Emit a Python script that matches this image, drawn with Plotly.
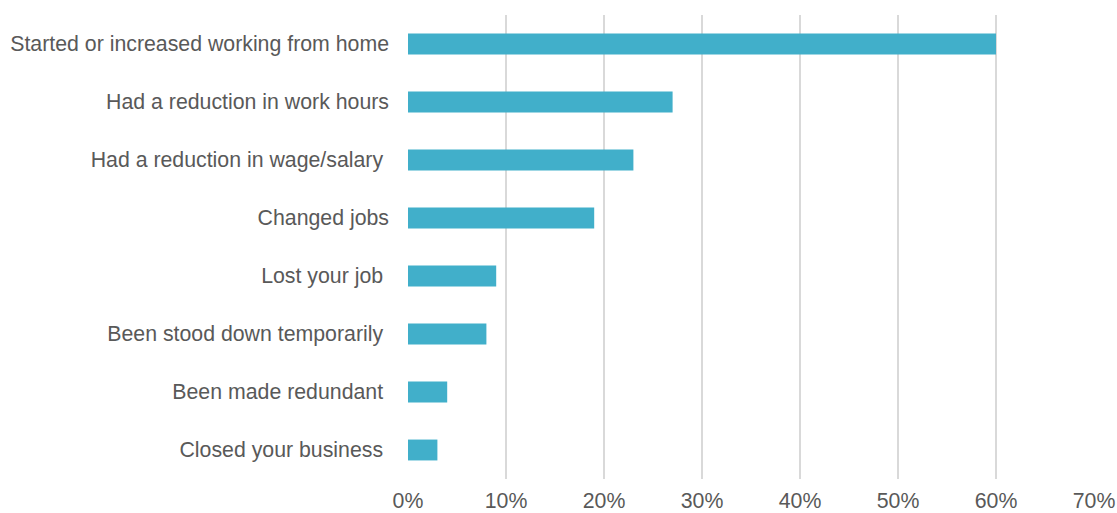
import plotly.graph_objects as go

# Survey responses: employment changes, share of respondents
categories = [
    "Started or increased working from home",
    "Had a reduction in work hours",
    "Had a reduction in wage/salary ",
    "Changed jobs",
    "Lost your job ",
    "Been stood down temporarily ",
    "Been made redundant ",
    "Closed your business ",
]
shares = [60, 27, 23, 19, 9, 8, 4, 3]
tick_values = [0, 10, 20, 30, 40, 50, 60, 70]
tick_labels = ["0%", "10%", "20%", "30%", "40%", "50%", "60%", "70%"]

fig = go.Figure(
    go.Bar(
        x=shares,
        y=categories,
        orientation="h",
        marker=dict(color="#41AFCA", line=dict(width=0)),
        width=0.36,
        hoverinfo="x+y",
    )
)

fig.update_layout(
    width=1117,
    height=513,
    margin=dict(l=408, r=23, t=15, b=34),
    paper_bgcolor="white",
    plot_bgcolor="white",
    font=dict(family="Liberation Sans, Arial, sans-serif", size=21.3, color="#595959"),
    showlegend=False,
)
fig.update_xaxes(
    range=[0, 70],
    tickvals=tick_values,
    ticktext=tick_labels,
    showgrid=True,
    gridcolor="#D9D9D9",
    gridwidth=2,
    zeroline=False,
    showline=False,
    ticks="",
    ticklabelstandoff=7,
    automargin=False,
)
fig.update_yaxes(
    categoryorder="array",
    categoryarray=categories[::-1],
    showgrid=False,
    zeroline=False,
    showline=False,
    ticks="",
    ticklabelstandoff=18,
    automargin=False,
)

fig.write_html("out.html")
